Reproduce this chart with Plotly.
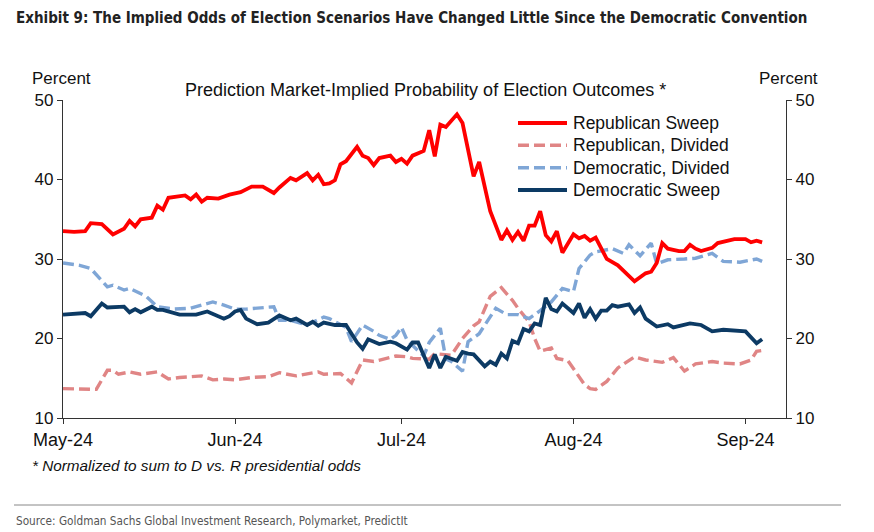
import pandas as pd
import plotly.graph_objects as go

START = "2024-05-01"  # day 0

# Days since May 1, 2024 and values (percent)
rs_days = [0,2,4,5,7,9,11,12,13,14,16,17,18,19,22,23,24,25,26,28,30,32,34,36,38,39,41,42,44,45,
           46,47,48,49,50,51,53,54,55,56,57,59,60,61,62,63,65,66,67,68,69,71,72,74,75,77,79,80,81,82,
           83,84,85,86,87,88,89,90,92,93,94,95,96,97,98,100,103,105,106,107,108,109,111,112,113,114,115,117,118,121,
           123,124,125,126]
rs_vals = [33.5,33.4,33.5,34.5,34.4,33.1,33.8,34.8,34.1,35.0,35.2,36.7,36.2,37.7,38.0,37.5,38.1,37.2,37.7,37.6,
           38.1,38.4,39.1,39.1,38.3,39.0,40.2,39.9,40.8,39.9,40.6,39.4,39.5,39.9,41.9,42.3,44.1,43.0,42.7,41.8,
           42.7,43.0,42.2,42.6,42.0,43.0,43.6,46.2,42.9,46.9,46.6,48.2,47.1,40.4,42.2,36.0,32.4,33.6,32.4,33.4,
           32.3,34.2,34.2,36.0,33.0,32.2,33.5,30.8,33.1,32.6,32.9,32.3,32.7,31.3,30.0,29.2,27.2,28.2,28.4,29.5,
           32.0,31.3,31.0,31.0,31.8,31.3,31.0,31.4,32.0,32.5,32.5,32.1,32.3,32.1]

rd_days = [0,6,8,9,10,12,14,17,19,21,25,27,29,31,34,37,39,42,46,47,50,52,54,56,60,62,63,66,67,70,
           72,74,75,77,79,81,82,84,85,86,88,89,91,93,94,95,96,98,100,103,105,108,110,112,114,117,119,122,124,125,126]
rd_vals = [13.7,13.6,16.0,16.0,15.5,15.8,15.5,15.8,14.9,15.1,15.3,14.8,14.9,14.8,15.1,15.2,15.7,15.3,15.8,15.5,
           15.6,14.4,17.3,17.1,17.8,17.7,17.5,17.4,18.1,17.9,20.0,21.6,22.1,25.3,26.4,24.8,23.8,22.1,20.0,18.4,
           18.8,17.5,17.2,15.2,14.2,13.7,13.6,14.6,16.3,17.7,17.3,17.0,17.6,15.9,16.8,17.1,16.9,16.8,17.3,18.4,18.5]

dd_days = [0,3,5,8,9,11,12,15,17,20,23,25,27,29,31,33,38,39,41,44,47,48,51,52,54,56,57,59,60,61,
           62,65,66,68,69,70,72,73,75,78,80,82,84,86,88,90,92,93,95,96,99,101,102,104,106,107,109,112,114,117,
           119,122,125,126]
dd_vals = [29.5,29.2,28.8,26.5,26.7,26.1,26.3,25.3,24.0,23.7,23.8,24.2,24.6,24.2,23.7,23.7,24.0,22.3,22.3,21.7,
           22.7,22.5,21.4,19.6,21.7,20.9,20.4,19.9,20.4,21.4,19.8,17.8,19.5,21.3,17.4,17.1,15.9,19.6,20.6,23.8,
           23.0,23.0,22.5,23.5,24.6,26.3,25.9,28.8,30.5,30.9,31.3,30.7,31.8,30.4,32.0,29.4,29.9,30.0,30.1,30.7,
           29.7,29.6,30.0,29.7]

ds_days = [0,4,5,7,8,11,12,13,14,16,17,18,21,24,26,29,30,31,32,33,35,37,39,41,42,44,45,46,47,49,
           51,53,54,55,57,59,60,62,63,64,66,67,68,69,71,72,73,74,76,77,78,79,80,81,82,83,84,85,86,87,
           88,89,90,92,93,94,95,96,97,98,99,100,102,103,104,105,107,109,110,113,115,117,119,123,125,126]
ds_vals = [23.0,23.2,22.8,24.4,23.9,24.0,23.3,23.7,23.3,24.0,23.6,23.6,23.0,23.0,23.4,22.5,22.8,23.4,23.6,22.5,
           21.8,22.0,22.9,22.3,22.5,21.7,22.1,21.6,22.0,21.7,21.7,19.5,18.7,19.9,19.3,19.6,19.4,18.6,19.5,19.5,
           16.3,18.0,16.3,17.7,17.2,18.3,18.1,18.0,16.5,17.1,16.7,18.1,17.5,19.7,19.4,21.2,20.9,21.9,21.7,25.1,
           23.7,23.4,24.4,23.2,24.4,22.6,23.7,22.5,23.5,23.5,24.2,24.0,24.3,23.2,23.9,22.5,21.5,21.8,21.4,21.9,
           21.7,20.9,21.1,20.9,19.4,19.9]

series_names = ["Republican Sweep", "Republican, Divided", "Democratic, Divided", "Democratic Sweep"]
series_colors = ["#FF0000", "#E08585", "#7FA6D6", "#0C3A64"]
series_dash = ["solid", "11px,5px", "11px,5px", "solid"]
series_width = [3.8, 3.4, 3.4, 3.8]

X_END_DAYS = 130.3
W, H = 874, 532
L, R, T, B = 63, 786, 100, 418  # plot area in pixels


def to_dates(days):
    return pd.to_datetime(START) + pd.to_timedelta(days, unit="D")


def px(x):
    return (x - L) / (R - L)


def py(y):
    return (B - y) / (B - T)


fig = go.Figure()
draw_order = [(rd_days, rd_vals, 1), (dd_days, dd_vals, 2), (ds_days, ds_vals, 3), (rs_days, rs_vals, 0)]
for days, vals, idx in draw_order:
    assert len(days) == len(vals)
    fig.add_trace(go.Scatter(
        x=to_dates(days), y=vals, mode="lines", name=series_names[idx],
        line=dict(color=series_colors[idx], width=series_width[idx], dash=series_dash[idx]),
        hoverinfo="skip", showlegend=False))

FONT = "Liberation Sans, Arial, sans-serif"
NARROW = "DejaVu Sans Condensed, Arial Narrow, sans-serif"
axis_common = dict(range=[10, 50], dtick=10, ticks="outside", ticklen=5, tickwidth=1.2,
                   tickcolor="#333", showline=True, linecolor="#333", linewidth=1.3,
                   showgrid=False, zeroline=False, tickfont=dict(size=17, color="#111", family=FONT))

fig.update_layout(
    width=W, height=H,
    margin=dict(l=L, r=W - R, t=T, b=H - B),
    paper_bgcolor="white", plot_bgcolor="white",
    font=dict(family=FONT, size=17, color="#111"),
    xaxis=dict(type="date",
               range=[pd.to_datetime(START), pd.to_datetime(START) + pd.Timedelta(days=X_END_DAYS)],
               tick0=START, dtick="M1", tickformat="%b-%y",
               ticks="outside", ticklen=5, tickwidth=1.2, tickcolor="#333",
               showline=True, linecolor="#333", linewidth=1.3, showgrid=False, zeroline=False,
               tickfont=dict(size=18, color="#111", family=FONT)),
    yaxis=dict(side="left", **axis_common),
    yaxis2=dict(side="right", overlaying="y", anchor="x", **axis_common),
    showlegend=False,
)
# invisible trace so the right axis is rendered
fig.add_trace(go.Scatter(x=[to_dates([0])[0]], y=[None], yaxis="y2", showlegend=False,
                         hoverinfo="skip", mode="lines"))

texts = [
    ("<b>Exhibit 9: The Implied Odds of Election Scenarios Have Changed Little Since the Democratic Convention</b>",
     14, 18, 15, NARROW, "#222", "left"),
    ("Percent", 30, 78, 17, FONT, "#111", "left"),
    ("Percent", 757, 78, 17, FONT, "#111", "left"),
    ("Prediction Market-Implied Probability of Election Outcomes *", 425, 90, 18, FONT, "#111", "center"),
    ("<i>* Normalized to sum to D vs. R presidential odds</i>", 30, 465, 15.3, FONT, "#111", "left"),
    ("Source: Goldman Sachs Global Investment Research, Polymarket, PredictIt", 14, 521, 11.7, NARROW, "#555", "left"),
]
for text, x, y, size, fam, col, anchor in texts:
    fig.add_annotation(text=text, x=px(x), y=py(y), xref="paper", yref="paper",
                       xanchor=anchor, yanchor="middle", showarrow=False,
                       font=dict(size=size, family=fam, color=col))

# Legend (built from the series names / styles)
legend_rows = [123, 145.3, 167.7, 190]
for i, yrow in enumerate(legend_rows):
    fig.add_shape(type="line", xref="paper", yref="paper", x0=px(518), x1=px(567), y0=py(yrow), y1=py(yrow),
                  line=dict(color=series_colors[i], width=series_width[i], dash=series_dash[i]))
    fig.add_annotation(text=series_names[i], x=px(571), y=py(yrow), xref="paper", yref="paper",
                       xanchor="left", yanchor="middle", showarrow=False,
                       font=dict(size=17.5, family=FONT, color="#111"))

# rule above the source line
fig.add_shape(type="line", xref="paper", yref="paper", x0=px(14), x1=px(841), y0=py(505), y1=py(505),
              line=dict(color="#888", width=1))

fig.write_html("out.html", config={"displayModeBar": False},
               post_script="document.body.style.margin='0px';document.body.style.padding='0px';")
